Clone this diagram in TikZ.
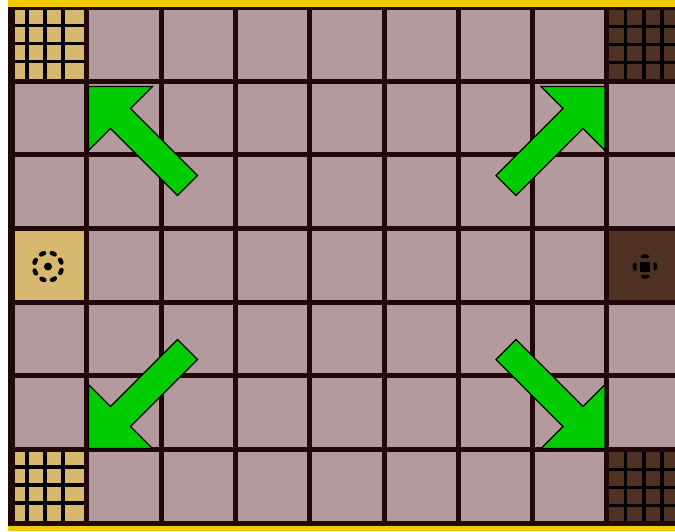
\documentclass[tikz,border=0pt]{standalone}
\usepackage{xcolor}
\usepackage{tikz}
\definecolor{rimc}{RGB}{244,200,0}
\definecolor{boardc}{RGB}{34,8,8}
\definecolor{cellc}{RGB}{179,155,157}
\definecolor{sandc}{RGB}{216,184,110}
\definecolor{cocoac}{RGB}{80,50,36}
\definecolor{movec}{RGB}{0,204,0}

\begin{document}
\begin{tikzpicture}[x=1pt, y=-1pt,
    cell/.style={fill=cellc},
    hatch/.style={black, line width=3.8pt},
    ring/.style={black, line width=4.4pt, line cap=round},
    movearrow/.style={fill=movec, draw=black, line width=1.3pt, line join=miter}]
  \useasboundingbox (0,0) rectangle (675,531);
  \clip (0,0) rectangle (675,531);
  \fill[white] (0,0) rectangle (675,531);
  \fill[rimc] (8,0) rectangle (675,531);
  \fill[boardc] (8,6.5) rectangle (675,526);
  \foreach \c in {0,...,8}
    \foreach \r in {0,...,6}
      \fill[cell] ({15+74.3*\c},{10+73.67*\r}) rectangle +(69.3,68.67);
  % corner cells
  \foreach \c/\r/\col/\ox/\oy in {0/0/sandc/11.7/15.5, 0/6/sandc/11.7/15,
      8/0/cocoac/16/16.5, 8/6/cocoac/16/17.5} {
    \begin{scope}[shift={({15+74.3*\c},{10+73.67*\r})}]
      \fill[\col] (0,0) rectangle (69.3,68.67);
      \foreach \k in {0,1,2} {
        \draw[hatch] ({\ox+18.3*\k},0) -- ++(0,68.67);
        \draw[hatch] (0,{\oy+18*\k}) -- ++(69.3,0);
      }
    \end{scope}}
  % home cells
  \fill[sandc] (15,{10+73.67*3}) rectangle +(69.3,68.67);
  \draw[ring, dash pattern=on 3.2pt off 7.8pt, dash phase=7.1pt] (48,266.5) circle (14pt);
  \fill[black] (48,266.5) circle (4pt);
  \fill[cocoac] ({15+74.3*8},{10+73.67*3}) rectangle +(69.3,68.67);
  \draw[ring, line width=3.6pt, dash pattern=on 5.5pt off 10.99pt, dash phase=2.75pt] (645,266.5) circle (10.5pt);
  \fill[black] (645,266.5) +(-5,-5) rectangle +(5,5);
  % arrows
  \foreach \tx/\ty/\sx/\sy in {88.5/86.5/1/1, 605/86.5/-1/1,
      88.5/448.5/1/-1, 605/448.5/-1/-1} {
    \begin{scope}[shift={(\tx,\ty)}, xscale=\sx, yscale=\sy]
      \draw[movearrow] (0,0) -- (64,0) -- (42,22) -- (109,89) -- (89,109)
        -- (22,42) -- (0,64) -- cycle;
    \end{scope}}
\end{tikzpicture}
\end{document}
